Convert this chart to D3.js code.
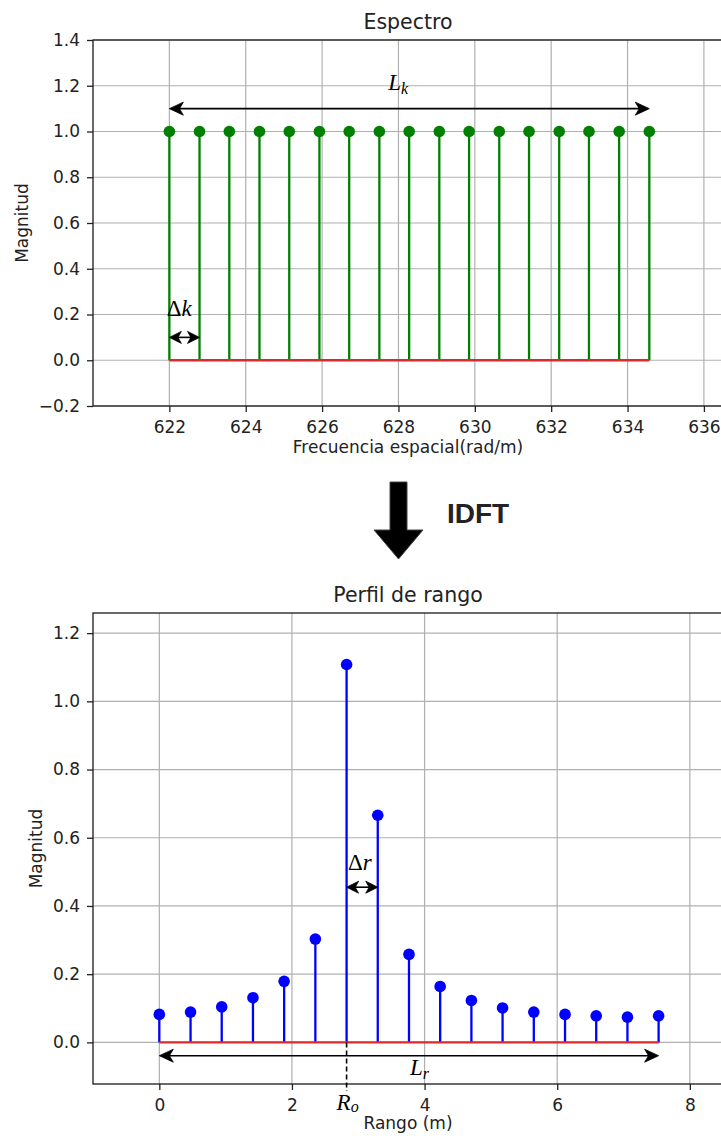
<!DOCTYPE html>
<meta charset="utf-8">
<script src="https://cdn.jsdelivr.net/npm/d3@7"></script>
<style>
  body { margin: 0; background: #fff; }
  svg text { font-family: "DejaVu Sans", sans-serif; fill: #222; }
  .math { font-family: "Liberation Serif", "DejaVu Serif", serif; fill: #000; }
</style>
<div id="chart"></div>
<script>

// ---- data: spectrum (top) ----
var specK = [622.00, 622.79, 623.57, 624.36, 625.14, 625.93, 626.71, 627.50, 628.28,
             629.07, 629.85, 630.64, 631.42, 632.21, 632.99, 633.78, 634.57]
var specMag = [1, 1, 1, 1, 1, 1, 1, 1, 1, 1, 1, 1, 1, 1, 1, 1, 1]
var specXTicks = [622, 624, 626, 628, 630, 632, 634, 636]
var specYTicks = [-0.2, 0.0, 0.2, 0.4, 0.6, 0.8, 1.0, 1.2, 1.4]

// ---- data: range profile (bottom) ----
var rangeR = [0.000, 0.471, 0.941, 1.412, 1.882, 2.353, 2.824, 3.294, 3.765,
              4.235, 4.706, 5.176, 5.647, 6.118, 6.588, 7.059, 7.529]
var rangeMag = [0.082, 0.089, 0.104, 0.131, 0.179, 0.303, 1.108, 0.666, 0.258,
                0.164, 0.123, 0.101, 0.089, 0.082, 0.078, 0.074, 0.078]
var rangeXTicks = [0, 2, 4, 6, 8]
var rangeYTicks = [0.0, 0.2, 0.4, 0.6, 0.8, 1.0, 1.2]

var W = 721, H = 1140

var svg = d3.select("#chart").append("svg")
    .attr("width", W).attr("height", H)

// arrow head with concave back, tip at (x,y), pointing dir (+1 right, -1 left)
function head(g, x, y, dir, len, half) {
  var p = d3.path()
  p.moveTo(x, y)
  p.lineTo(x - dir * len, y - half)
  p.lineTo(x - dir * len * 0.72, y)
  p.lineTo(x - dir * len, y + half)
  p.closePath()
  g.append("path").attr("d", p.toString()).attr("fill", "#000")
    .attr("stroke", "#000").attr("stroke-width", 0.8).attr("stroke-linejoin", "round")
}

function dblArrow(g, x1, x2, y, len, half) {
  g.append("line").attr("x1", x1 + len * 0.6).attr("x2", x2 - len * 0.6)
    .attr("y1", y).attr("y2", y).attr("stroke", "#000").attr("stroke-width", 1.6)
  head(g, x1, y, -1, len, half)
  head(g, x2, y, 1, len, half)
}

// generic stem panel
function stemPanel(o) {
  var g = svg.append("g")
  var x = d3.scaleLinear().domain(o.xDomain).range([o.left, o.right])
  var y = d3.scaleLinear().domain(o.yDomain).range([o.bottom, o.top])

  // grid
  g.append("g").selectAll("line").data(o.xTicks).enter().append("line")
    .attr("x1", d => x(d)).attr("x2", d => x(d))
    .attr("y1", o.top).attr("y2", o.bottom)
    .attr("stroke", "#b0b0b0").attr("stroke-width", 1.2)
  g.append("g").selectAll("line").data(o.yTicks).enter().append("line")
    .attr("x1", o.left).attr("x2", o.right)
    .attr("y1", d => y(d)).attr("y2", d => y(d))
    .attr("stroke", "#b0b0b0").attr("stroke-width", 1.2)

  // stems
  g.append("g").selectAll("line").data(o.xs).enter().append("line")
    .attr("x1", d => x(d)).attr("x2", d => x(d))
    .attr("y1", y(0)).attr("y2", (d, i) => y(o.ys[i]))
    .attr("stroke", o.color).attr("stroke-width", 2.3)
  // baseline
  g.append("line")
    .attr("x1", x(d3.min(o.xs))).attr("x2", x(d3.max(o.xs)))
    .attr("y1", y(0)).attr("y2", y(0))
    .attr("stroke", "#e0282a").attr("stroke-width", 2.4)
  // markers
  g.append("g").selectAll("circle").data(o.xs).enter().append("circle")
    .attr("cx", d => x(d)).attr("cy", (d, i) => y(o.ys[i]))
    .attr("r", 5.8).attr("fill", o.color)

  // axes
  var ax = g.append("g").attr("transform", "translate(0," + o.bottom + ")")
    .call(d3.axisBottom(x).tickValues(o.xTicks).tickSize(6).tickPadding(9).tickFormat(d3.format("d")))
  var ay = g.append("g").attr("transform", "translate(" + o.left + ",0)")
    .call(d3.axisLeft(y).tickValues(o.yTicks).tickSize(6).tickPadding(7).tickFormat(d3.format(".1f")))
  ;[ax, ay].forEach(function(a) {
    a.select(".domain").remove()
    a.selectAll(".tick line").attr("stroke", "#222").attr("stroke-width", 1.3)
    a.selectAll(".tick text").style("font-size", "17px").attr("fill", "#222")
  })

  // frame
  g.append("rect").attr("x", o.left).attr("y", o.top)
    .attr("width", o.right - o.left).attr("height", o.bottom - o.top)
    .attr("fill", "none").attr("stroke", "#1a1a1a").attr("stroke-width", 1.3)

  // title and labels
  var cx = (o.left + o.right) / 2
  g.append("text").attr("x", cx).attr("y", o.top - 11)
    .attr("text-anchor", "middle").style("font-size", "20.5px").text(o.title)
  g.append("text").attr("x", cx).attr("y", o.xLabelY)
    .attr("text-anchor", "middle").style("font-size", "17px").text(o.xLabel)
  g.append("text")
    .attr("transform", "translate(" + o.yLabelX + "," + ((o.top + o.bottom) / 2) + ") rotate(-90)")
    .attr("text-anchor", "middle").style("font-size", "17px").text("Magnitud")

  return { g: g, x: x, y: y }
}

// ---------- top: Espectro ----------
var spec = stemPanel({
  left: 93, right: 723, top: 40, bottom: 406,
  xDomain: [620, 636.5], yDomain: [-0.2, 1.4],
  xTicks: specXTicks, yTicks: specYTicks,
  xs: specK, ys: specMag, color: "#008000",
  title: "Espectro", xLabel: "Frecuencia espacial(rad/m)",
  xLabelY: 453, yLabelX: 28
})

// L_k arrow
dblArrow(spec.g, spec.x(specK[0]), spec.x(specK[16]), spec.y(1.1), 14, 6.5)
var lk = spec.g.append("text").attr("class", "math")
  .attr("x", spec.x(627.73)).attr("y", spec.y(1.18)).style("font-size", "23px")
lk.append("tspan").style("font-style", "italic").text("L")
lk.append("tspan").style("font-style", "italic").style("font-size", "16px")
  .attr("dy", 4).text("k")

// Delta k arrow
dblArrow(spec.g, spec.x(specK[0]), spec.x(specK[1]), spec.y(0.1), 12, 6)
var dk = spec.g.append("text").attr("class", "math")
  .attr("x", spec.x(621.93)).attr("y", spec.y(0.192)).style("font-size", "23px")
dk.append("tspan").text("Δ")
dk.append("tspan").style("font-style", "italic").text("k")

// ---------- IDFT arrow ----------
var big = d3.path()
big.moveTo(390, 482); big.lineTo(407, 482); big.lineTo(407, 530)
big.lineTo(423, 530); big.lineTo(398.5, 559); big.lineTo(374, 530)
big.lineTo(390, 530); big.closePath()
svg.append("path").attr("d", big.toString()).attr("fill", "#000")
  .attr("stroke", "#444").attr("stroke-width", 1)
svg.append("text").attr("x", 447).attr("y", 523)
  .style("font-family", "'Liberation Sans', Arial, sans-serif")
  .style("font-weight", "bold").style("font-size", "28px").attr("fill", "#000")
  .text("IDFT")

// ---------- bottom: Perfil de rango ----------
var prof = stemPanel({
  left: 93, right: 723, top: 613, bottom: 1084,
  xDomain: [-1, 8.5], yDomain: [-0.122, 1.259],
  xTicks: rangeXTicks, yTicks: rangeYTicks,
  xs: rangeR, ys: rangeMag, color: "#0000ff",
  title: "Perfil de rango", xLabel: "Rango (m)",
  xLabelY: 1129, yLabelX: 42
})

// Delta r arrow
dblArrow(prof.g, prof.x(rangeR[6]), prof.x(rangeR[7]), prof.y(0.455), 12, 6)
var dr = prof.g.append("text").attr("class", "math")
  .attr("x", prof.x(2.845)).attr("y", prof.y(0.505)).style("font-size", "23px")
dr.append("tspan").text("Δ")
dr.append("tspan").style("font-style", "italic").text("r")

// L_r arrow
dblArrow(prof.g, prof.x(rangeR[0]), prof.x(rangeR[16]), prof.y(-0.039), 14, 6.5)
var lr = prof.g.append("text").attr("class", "math")
  .attr("x", prof.x(3.78)).attr("y", prof.y(-0.096)).style("font-size", "23px")
lr.append("tspan").style("font-style", "italic").text("L")
lr.append("tspan").style("font-style", "italic").style("font-size", "16px")
  .attr("dy", 4).text("r")

// R_o marker
prof.g.append("line")
  .attr("x1", prof.x(rangeR[6])).attr("x2", prof.x(rangeR[6]))
  .attr("y1", prof.y(0)).attr("y2", 1091)
  .attr("stroke", "#000").attr("stroke-width", 1.6).attr("stroke-dasharray", "5,3")
var ro = prof.g.append("text").attr("class", "math")
  .attr("x", prof.x(rangeR[6]) - 10).attr("y", 1110).style("font-size", "23px")
ro.append("tspan").style("font-style", "italic").text("R")
ro.append("tspan").style("font-style", "italic").style("font-size", "16px")
  .attr("dy", 2).text("o")

</script>
